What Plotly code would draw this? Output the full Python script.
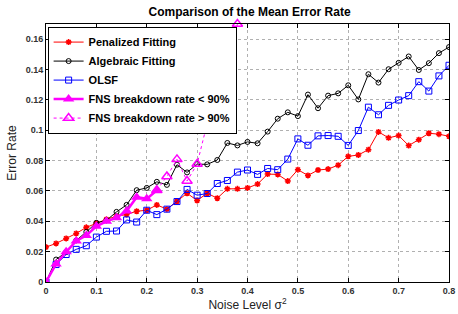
import plotly.graph_objects as go

noise = [round(0.02 * i, 2) for i in range(41)]

penalized = [0.023, 0.0254, 0.0287, 0.032, 0.036, 0.0387, 0.0413, 0.0433, 0.0445, 0.0466,
             0.0473, 0.0508, 0.048, 0.0532, 0.0585, 0.0537, 0.0585, 0.0552, 0.0614, 0.0614,
             0.062, 0.0645, 0.0711, 0.0709, 0.0665, 0.074, 0.0702, 0.0738, 0.0744, 0.077,
             0.0828, 0.0837, 0.0872, 0.0989, 0.095, 0.0965, 0.0899, 0.0938, 0.098, 0.0974, 0.096]

algebraic = [0.0, 0.0148, 0.0197, 0.0274, 0.033, 0.039, 0.0406, 0.0462, 0.0508, 0.0605,
             0.062, 0.066, 0.064, 0.0773, 0.0722, 0.0777, 0.0775, 0.0804, 0.0916, 0.090,
             0.0923, 0.0914, 0.0991, 0.1076, 0.1118, 0.1093, 0.1235, 0.1145, 0.1228, 0.1243,
             0.1296, 0.1203, 0.1369, 0.1314, 0.1402, 0.1444, 0.1486, 0.1397, 0.1442, 0.1508, 0.1548]

olsf = [0.0, 0.0115, 0.0181, 0.0215, 0.0239, 0.0296, 0.0334, 0.0336, 0.0409, 0.0395,
        0.0473, 0.0444, 0.048, 0.053, 0.061, 0.0572, 0.0583, 0.0649, 0.0669, 0.0724,
        0.0738, 0.0709, 0.0748, 0.074, 0.081, 0.0943, 0.0901, 0.0963, 0.0965, 0.096,
        0.090, 0.0998, 0.1152, 0.1102, 0.1164, 0.1199, 0.1228, 0.132, 0.1258, 0.1358, 0.1428]

fns_low_x = [0.0, 0.02, 0.04, 0.06, 0.08, 0.10, 0.12, 0.14, 0.16, 0.18, 0.20, 0.22]
fns_low = [0.0, 0.0119, 0.0199, 0.027, 0.0307, 0.0367, 0.040, 0.0424, 0.0468, 0.0559, 0.0548, 0.0605]

fns_high_x = [0.22, 0.24, 0.26, 0.28, 0.30, 0.32, 0.34, 0.36, 0.38]
fns_high = [0.0605, 0.0695, 0.0808, 0.0665, 0.0777, 0.1046, 0.1027, 0.1413, 0.170]

x_ticks = [0, 0.1, 0.2, 0.3, 0.4, 0.5, 0.6, 0.7, 0.8]
x_tick_labels = ["0", "0.1", "0.2", "0.3", "0.4", "0.5", "0.6", "0.7", "0.8"]
y_ticks = [0, 0.02, 0.04, 0.06, 0.08, 0.1, 0.12, 0.14, 0.16]
y_tick_labels = ["0", "0.02", "0.04", "0.06", "0.08", "0.1", "0.12", "0.14", "0.16"]

FONT = "Liberation Sans, Arial, sans-serif"

fig = go.Figure()
fig.add_trace(go.Scatter(x=noise, y=penalized, mode="lines+markers", name="Penalized Fitting",
                         line=dict(color="#ff0000", width=1),
                         marker=dict(symbol="asterisk-open", size=5, color="#ff0000",
                                     line=dict(color="#ff0000", width=1.5))))
fig.add_trace(go.Scatter(x=noise, y=algebraic, mode="lines+markers", name="Algebraic Fitting",
                         line=dict(color="#000000", width=1),
                         marker=dict(symbol="circle-open", size=5, color="#000000",
                                     line=dict(color="#000000", width=1))))
fig.add_trace(go.Scatter(x=noise, y=olsf, mode="lines+markers", name="OLSF",
                         line=dict(color="#0000ff", width=1),
                         marker=dict(symbol="square-open", size=6, color="#0000ff",
                                     line=dict(color="#0000ff", width=1))))
fig.add_trace(go.Scatter(x=fns_low_x, y=fns_low, mode="lines+markers", name="FNS breakdown rate < 90%",
                         line=dict(color="#ff00ff", width=2.5),
                         marker=dict(symbol="triangle-up", size=10, color="#ff00ff")))
fig.add_trace(go.Scatter(x=fns_high_x, y=fns_high, mode="lines+markers", name="FNS breakdown rate > 90%",
                         line=dict(color="#ff00ff", width=1, dash="dot"),
                         marker=dict(symbol="triangle-up-open", size=9, color="#ff00ff",
                                     line=dict(color="#ff00ff", width=1.5)),
                         cliponaxis=False))

axis_common = dict(showline=True, linecolor="black", linewidth=1, mirror="ticks",
                   ticks="inside", ticklen=4, tickcolor="black",
                   showgrid=True, gridcolor="#b0b0b0", griddash="dot", gridwidth=1,
                   zeroline=False, ticklabeloverflow="allow",
                   tickfont=dict(family=FONT, size=9, color="#333333", weight="bold"))

fig.update_xaxes(range=[0, 0.8], tickvals=x_ticks, ticktext=x_tick_labels,
                 title=dict(text="Noise Level σ<sup>2</sup>", standoff=3,
                            font=dict(family=FONT, size=12, color="#222222")),
                 **axis_common)
fig.update_yaxes(range=[0, 0.17], tickvals=y_ticks, ticktext=y_tick_labels,
                 title=dict(text="Error Rate", standoff=6,
                            font=dict(family=FONT, size=12, color="#222222")),
                 **axis_common)

fig.update_layout(
    width=458, height=314,
    margin=dict(l=46, r=3, t=24, b=32),
    paper_bgcolor="white", plot_bgcolor="white",
    title=dict(text="Comparison of the Mean Error Rate", x=0.545, xanchor="center",
               y=0.975, yanchor="top",
               font=dict(family=FONT, size=12, color="black", weight="bold")),
    legend=dict(x=0.004, y=0.99, xanchor="left", yanchor="top",
                bgcolor="white", bordercolor="black", borderwidth=1,
                font=dict(family=FONT, size=11, color="black", weight="bold"),
                tracegroupgap=0, itemwidth=30),
    showlegend=True,
)

fig.write_html("out.html", config={"displayModeBar": False},
               post_script="document.body.style.margin='0';document.body.style.overflow='hidden';")
